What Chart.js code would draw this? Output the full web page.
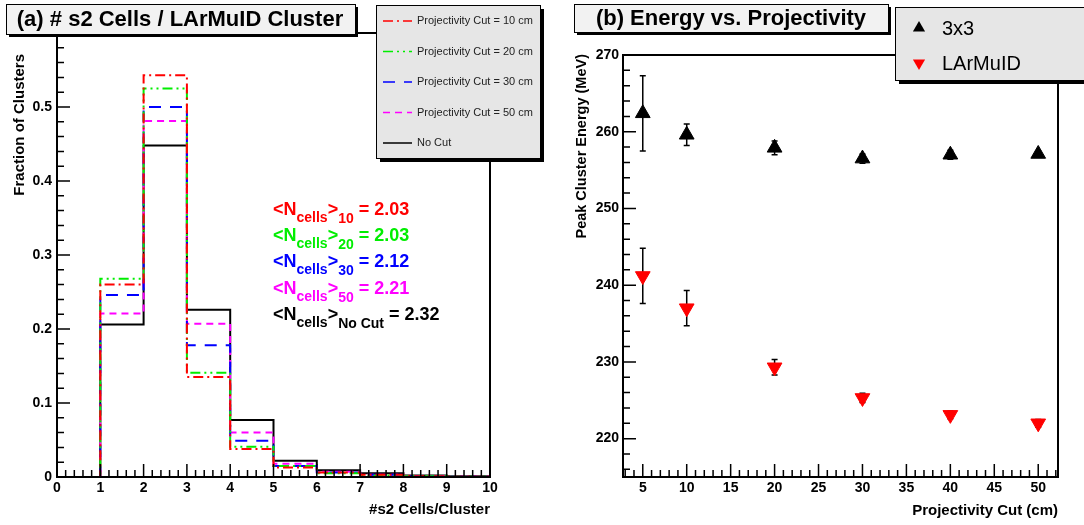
<!DOCTYPE html>
<html>
<head>
<meta charset="utf-8">
<script src="https://cdn.jsdelivr.net/npm/chart.js@4.4.1/dist/chart.umd.min.js"></script>
<style>
body { margin: 0; background: #fff; width: 1084px; height: 525px; overflow: hidden; position: relative; }
.panel { position: absolute; top: 0; height: 525px; }
#pa { left: 0; width: 545px; }
#pb { left: 545px; width: 539px; }
</style>
</head>
<body>
<div class="panel" id="pa"><canvas id="ca"></canvas></div>
<div class="panel" id="pb"><canvas id="cb"></canvas></div>
<script>
// ---- (a) histogram data: fraction of clusters per bin [0,1), [1,2) ... [9,10)
var binEdges = [0, 1, 2, 3, 4, 5, 6, 7, 8, 9, 10];
var cut10 = [0, 0.260, 0.543, 0.135, 0.038, 0.013, 0.006, 0.003, 0.001, 0.0005];
var cut20 = [0, 0.268, 0.525, 0.141, 0.041, 0.015, 0.005, 0.002, 0.001, 0.0005];
var cut30 = [0, 0.246, 0.500, 0.178, 0.049, 0.015, 0.006, 0.003, 0.001, 0.0005];
var cut50 = [0, 0.221, 0.481, 0.207, 0.060, 0.018, 0.007, 0.003, 0.001, 0.0005];
var noCut = [0, 0.206, 0.448, 0.226, 0.077, 0.022, 0.009, 0.005, 0.002, 0.001];
var histNames = ['Projectivity Cut = 10 cm', 'Projectivity Cut = 20 cm', 'Projectivity Cut = 30 cm', 'Projectivity Cut = 50 cm', 'No Cut'];
var meanSubs = ['10', '20', '30', '50', 'No Cut'];
var meanVals = ['2.03', '2.03', '2.12', '2.21', '2.32'];
var xTicksA = [0, 1, 2, 3, 4, 5, 6, 7, 8, 9, 10];
var yTicksA = [0, 0.1, 0.2, 0.3, 0.4, 0.5];

// ---- (b) peak energy vs projectivity cut
var cuts = [5, 10, 20, 30, 40, 50];
var e3x3 = [262.4, 259.6, 257.9, 256.5, 257.0, 257.1];
var e3x3Err = [4.9, 1.4, 0.9, 0.6, 0.6, 0.4];
var eLar = [241.2, 237.0, 229.3, 225.3, 223.1, 222.0];
var eLarErr = [3.6, 2.3, 1.0, 0.6, 0.5, 0.5];
var xTicksB = [5, 10, 15, 20, 25, 30, 35, 40, 45, 50];
var yTicksB = [220, 230, 240, 250, 260, 270];

var histColors = ['#ff0000', '#00ee00', '#0000ff', '#ff00ff', '#000000'];
var histDash = [[10, 4, 2, 4], [10, 4, 2, 4, 2, 4], [12, 9], [7, 5], []];
var histValues = [cut10, cut20, cut30, cut50, noCut];

Chart.defaults.font.family = '"Liberation Sans", Helvetica, Arial, sans-serif';
Chart.defaults.color = '#000';

function range(a, b, s) {
    var r = [];
    for (var i = 0; a + i * s <= b + 1e-9; i++) r.push(+(a + i * s).toFixed(6));
    return r;
}

// frame + ROOT style ticks drawn inside the frame
function drawFrame(chart, t) {
    var ctx = chart.ctx, a = chart.chartArea;
    var xs = chart.scales.x, ys = chart.scales.y;
    ctx.save();
    ctx.strokeStyle = '#000';
    ctx.lineWidth = 1.5;
    ctx.beginPath();
    t.xMinor.forEach(function (v) {
        var p = xs.getPixelForValue(v);
        ctx.moveTo(p, a.bottom); ctx.lineTo(p, a.bottom - 7);
    });
    t.xMajor.forEach(function (v) {
        var p = xs.getPixelForValue(v);
        ctx.moveTo(p, a.bottom); ctx.lineTo(p, a.bottom - 13);
    });
    t.yMinor.forEach(function (v) {
        var p = ys.getPixelForValue(v);
        ctx.moveTo(a.left, p); ctx.lineTo(a.left + 7, p);
    });
    t.yMajor.forEach(function (v) {
        var p = ys.getPixelForValue(v);
        ctx.moveTo(a.left, p); ctx.lineTo(a.left + 13, p);
    });
    ctx.stroke();
    ctx.lineWidth = 2;
    ctx.strokeRect(a.left, a.top, a.right - a.left, a.bottom - a.top);
    ctx.restore();
}

function shadowBox(ctx, x, y, w, h, fill, sh) {
    ctx.fillStyle = '#000';
    ctx.fillRect(x + sh, y + sh, w, h);
    ctx.fillStyle = fill;
    ctx.fillRect(x, y, w, h);
    ctx.strokeStyle = '#000';
    ctx.lineWidth = 1;
    ctx.strokeRect(x + 0.5, y + 0.5, w, h);
}

function axisTitles(ctx, xt, xtx, xty, yt, ytx, yty, ysize) {
    ctx.save();
    ctx.fillStyle = '#000';
    ctx.font = 'bold 15px "Liberation Sans", Arial, sans-serif';
    ctx.textAlign = 'right';
    ctx.textBaseline = 'middle';
    ctx.fillText(xt, xtx, xty);
    ctx.translate(ytx, yty);
    ctx.rotate(-Math.PI / 2);
    ctx.font = 'bold ' + ysize + 'px "Liberation Sans", Arial, sans-serif';
    ctx.fillText(yt, 0, 0);
    ctx.restore();
}

function triangle(ctx, x, y, r, down) {
    var s = down ? -1 : 1;
    ctx.beginPath();
    ctx.moveTo(x, y - s * r);
    ctx.lineTo(x + r * 0.87, y + s * r * 0.5);
    ctx.lineTo(x - r * 0.87, y + s * r * 0.5);
    ctx.closePath();
    ctx.fill();
}

// ---------------- chart (a)
var histDatasets = histValues.map(function (vals, k) {
    return {
        label: histNames[k],
        data: binEdges.map(function (e, i) { return { x: e, y: i < vals.length ? vals[i] : 0 }; }),
        stepped: 'before',
        borderColor: histColors[k],
        borderWidth: 2,
        borderDash: histDash[k],
        pointRadius: 0,
        fill: false
    };
});

var decoA = {
    id: 'decoA',
    afterDatasetsDraw: function (chart) {
        drawFrame(chart, {
            xMinor: range(0, 10, 0.2), xMajor: xTicksA,
            yMinor: range(0, 0.6, 0.02), yMajor: yTicksA
        });
    },
    afterDraw: function (chart) {
        var ctx = chart.ctx;
        ctx.save();
        // title
        shadowBox(ctx, 6, 4, 349, 30, '#f2f2f2', 3);
        ctx.fillStyle = '#000';
        ctx.font = 'bold 22px "Liberation Sans", Arial, sans-serif';
        ctx.textAlign = 'center';
        ctx.textBaseline = 'middle';
        ctx.fillText('(a) # s2 Cells / LArMuID Cluster', 180, 20);
        // legend
        shadowBox(ctx, 376, 5, 164, 153, '#e6e6e6', 4);
        ctx.font = '11px "Liberation Sans", Arial, sans-serif';
        ctx.textAlign = 'left';
        histNames.forEach(function (n, k) {
            var y = 21 + k * 30.5;
            ctx.strokeStyle = histColors[k];
            ctx.lineWidth = 1.5;
            ctx.setLineDash(histDash[k]);
            ctx.beginPath();
            ctx.moveTo(383, y); ctx.lineTo(412, y);
            ctx.stroke();
            ctx.setLineDash([]);
            ctx.fillStyle = '#222';
            ctx.fillText(n, 417, y);
        });
        // mean annotations
        var big = 'bold 18px "Liberation Sans", Arial, sans-serif';
        var small = 'bold 14px "Liberation Sans", Arial, sans-serif';
        ctx.textBaseline = 'alphabetic';
        meanSubs.forEach(function (s, k) {
            var y = 215 + k * 26.2, x = 273;
            var parts = [['<N', big, 0], ['cells', small, 7], ['>', big, 0], [s, small, 8], [' = ' + meanVals[k], big, 0]];
            ctx.fillStyle = histColors[k];
            parts.forEach(function (p) {
                ctx.font = p[1];
                ctx.fillText(p[0], x, y + p[2]);
                x += ctx.measureText(p[0]).width;
            });
        });
        ctx.restore();
        axisTitles(ctx, '#s2 Cells/Cluster', 490, 510, 'Fraction of Clusters', 20, 54, 15);
    }
};

new Chart(document.getElementById('ca'), {
    type: 'line',
    data: { datasets: histDatasets },
    options: {
        responsive: true,
        maintainAspectRatio: false,
        animation: false,
        layout: { padding: { left: 0, right: 55, top: 33, bottom: 0 } },
        plugins: { legend: { display: false }, tooltip: { enabled: false } },
        scales: {
            x: {
                type: 'linear', min: 0, max: 10,
                afterBuildTicks: function (s) { s.ticks = xTicksA.map(function (v) { return { value: v }; }); },
                afterFit: function (s) { s.height = 48; },
                grid: { display: false, drawTicks: false },
                border: { display: false },
                ticks: { font: { size: 14, weight: 'bold' }, padding: 3, maxRotation: 0, autoSkip: false }
            },
            y: {
                type: 'linear', min: 0, max: 0.6,
                afterBuildTicks: function (s) { s.ticks = yTicksA.map(function (v) { return { value: v }; }); },
                afterFit: function (s) { s.width = 57; },
                grid: { display: false, drawTicks: false },
                border: { display: false },
                ticks: {
                    font: { size: 14, weight: 'bold' }, padding: 5,
                    callback: function (v) { return v === 0 ? '0' : v.toFixed(1); }
                }
            }
        }
    },
    plugins: [decoA]
});

// ---------------- chart (b)
var errSets = [e3x3Err, eLarErr];

var decoB = {
    id: 'decoB',
    beforeDatasetsDraw: function (chart) {
        var ctx = chart.ctx, xs = chart.scales.x, ys = chart.scales.y;
        ctx.save();
        ctx.strokeStyle = '#000';
        ctx.lineWidth = 1.5;
        ctx.beginPath();
        [e3x3, eLar].forEach(function (vals, k) {
            vals.forEach(function (v, i) {
                var px = xs.getPixelForValue(cuts[i]);
                var lo = ys.getPixelForValue(v - errSets[k][i]);
                var hi = ys.getPixelForValue(v + errSets[k][i]);
                ctx.moveTo(px, lo); ctx.lineTo(px, hi);
                ctx.moveTo(px - 3, lo); ctx.lineTo(px + 3, lo);
                ctx.moveTo(px - 3, hi); ctx.lineTo(px + 3, hi);
            });
        });
        ctx.stroke();
        ctx.restore();
    },
    afterDatasetsDraw: function (chart) {
        drawFrame(chart, {
            xMinor: range(3, 52, 1), xMajor: xTicksB,
            yMinor: range(216, 270, 2), yMajor: yTicksB
        });
    },
    afterDraw: function (chart) {
        var ctx = chart.ctx;
        ctx.save();
        shadowBox(ctx, 29, 4, 314, 28, '#f2f2f2', 3);
        ctx.fillStyle = '#000';
        ctx.font = 'bold 22px "Liberation Sans", Arial, sans-serif';
        ctx.textAlign = 'center';
        ctx.textBaseline = 'middle';
        ctx.fillText('(b) Energy vs. Projectivity', 186, 19);
        shadowBox(ctx, 350, 7, 210, 73, '#e6e6e6', 4);
        ctx.textAlign = 'left';
        ctx.font = '20px "Liberation Sans", Arial, sans-serif';
        chart.data.datasets.forEach(function (d, k) {
            var y = 28 + k * 35;
            ctx.fillStyle = d.backgroundColor;
            triangle(ctx, 374, y, 7, k === 1);
            ctx.fillStyle = '#000';
            ctx.fillText(d.label, 397, y + 1);
        });
        ctx.restore();
        axisTitles(ctx, 'Projectivity Cut (cm)', 513, 511, 'Peak Cluster Energy (MeV)', 37, 54, 14.5);
    }
};

new Chart(document.getElementById('cb'), {
    type: 'line',
    data: {
        datasets: [{
            label: '3x3',
            data: cuts.map(function (c, i) { return { x: c, y: e3x3[i] }; }),
            showLine: false,
            pointStyle: 'triangle',
            pointRadius: 8.5,
            backgroundColor: '#000000',
            borderColor: '#000000',
            borderWidth: 1
        }, {
            label: 'LArMuID',
            data: cuts.map(function (c, i) { return { x: c, y: eLar[i] }; }),
            showLine: false,
            pointStyle: 'triangle',
            rotation: 180,
            pointRadius: 8.5,
            backgroundColor: '#ff0000',
            borderColor: '#ff0000',
            borderWidth: 1
        }]
    },
    options: {
        responsive: true,
        maintainAspectRatio: false,
        animation: false,
        layout: { padding: { left: 0, right: 26, top: 55, bottom: 0 } },
        plugins: { legend: { display: false }, tooltip: { enabled: false } },
        scales: {
            x: {
                type: 'linear', min: 2.75, max: 52.25,
                afterBuildTicks: function (s) { s.ticks = xTicksB.map(function (v) { return { value: v }; }); },
                afterFit: function (s) { s.height = 48; },
                grid: { display: false, drawTicks: false },
                border: { display: false },
                ticks: { font: { size: 14, weight: 'bold' }, padding: 3, maxRotation: 0, autoSkip: false }
            },
            y: {
                type: 'linear', min: 215, max: 270,
                afterBuildTicks: function (s) { s.ticks = yTicksB.map(function (v) { return { value: v }; }); },
                afterFit: function (s) { s.width = 78; },
                grid: { display: false, drawTicks: false },
                border: { display: false },
                ticks: { font: { size: 14, weight: 'bold' }, padding: 4 }
            }
        }
    },
    plugins: [decoB]
});
</script>
</body>
</html>
